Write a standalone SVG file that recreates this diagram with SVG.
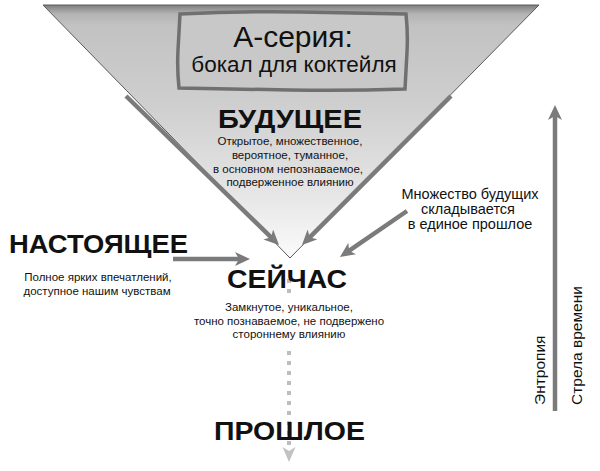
<svg xmlns="http://www.w3.org/2000/svg" width="600" height="471" viewBox="0 0 600 471">
<defs>
<linearGradient id="glass" gradientUnits="userSpaceOnUse" x1="0" y1="5" x2="0" y2="258">
<stop offset="0" stop-color="#7e7e7e"/>
<stop offset="0.035" stop-color="#b4b4b4"/>
<stop offset="0.08" stop-color="#c2c2c2"/>
<stop offset="0.4" stop-color="#cfcfcf"/>
<stop offset="0.75" stop-color="#e6e6e6"/>
<stop offset="1" stop-color="#fbfbfb"/>
</linearGradient>
<marker id="ah" markerUnits="userSpaceOnUse" markerWidth="16" markerHeight="14" viewBox="0 0 16 14" refX="9" refY="7" orient="auto">
<path d="M0,0 L15,7 L0,14 L4,7 Z" fill="#7b7b7b"/>
</marker>
</defs>
<style>
text{font-family:"Liberation Sans",Arial,sans-serif;fill:#111}
.big{font-weight:bold;font-size:26px}
.sm{font-size:11.5px;text-anchor:middle}
.md{font-size:14.5px;text-anchor:middle}
.arr{stroke:#7b7b7b;stroke-width:4.5;fill:none;marker-end:url(#ah)}
</style>
<g id="glass-shape">
<path d="M43,5 L539,5 L290,258 Z" fill="url(#glass)" stroke="#5a5a5a" stroke-width="1"/>
</g>
<g id="title-box">
<path d="M180,14 Q240,11 300,12 T406,14 Q408,33 407,52 T405,89 Q348,91 290,90 T179,88 Q177,69 178,50 T180,14 Z" fill="#c8c8c8" stroke="#707070" stroke-width="3.5"/>
<text x="293" y="47" font-size="30" text-anchor="middle">А-серия:</text>
<text x="294" y="72" font-size="22.5" text-anchor="middle">бокал для коктейля</text>
</g>
<g id="future">
<text class="big" x="218" y="128" textLength="144" lengthAdjust="spacingAndGlyphs">БУДУЩЕЕ</text>
<text class="sm" x="290" y="145" font-size="11">Открытое, множественное,</text>
<text class="sm" x="290" y="159">вероятное, туманное,</text>
<text class="sm" x="288" y="173">в основном непознаваемое,</text>
<text class="sm" x="290" y="186">подверженное влиянию</text>
</g>
<g id="connectors">
<line class="arr" x1="126" y1="96" x2="274.7" y2="240.8"/>
<line class="arr" x1="451" y1="96" x2="306.2" y2="240.8"/>
<line class="arr" x1="173" y1="259" x2="244" y2="259"/>
<line class="arr" x1="407" y1="211" x2="344.9" y2="253.6"/>
<line class="arr" x1="555" y1="411" x2="555" y2="111"/>
<line x1="289" y1="279" x2="289" y2="294" stroke="#bdbdbd" stroke-width="4" stroke-dasharray="4 6"/>
<line x1="289" y1="351" x2="289" y2="446" stroke="#bdbdbd" stroke-width="4" stroke-dasharray="4 6"/>
<path d="M282.5,447 L289,451 L295.5,447 L289,462 Z" fill="#c2c2c2"/>
</g>
<g id="present">
<text class="big" x="9" y="253" font-size="25" textLength="179" lengthAdjust="spacingAndGlyphs">НАСТОЯЩЕЕ</text>
<text class="sm" x="98" y="281">Полное ярких впечатлений,</text>
<text class="sm" x="97" y="295">доступное нашим чувствам</text>
</g>
<g id="now">
<text class="big" x="227" y="288" font-size="24" textLength="120" lengthAdjust="spacingAndGlyphs">СЕЙЧАС</text>
<text class="sm" x="289" y="311">Замкнутое, уникальное,</text>
<text class="sm" x="289" y="325">точно познаваемое, не подвержено</text>
<text class="sm" x="289" y="338">стороннему влиянию</text>
</g>
<g id="past">
<text class="big" x="214" y="440" textLength="151" lengthAdjust="spacingAndGlyphs">ПРОШЛОЕ</text>
</g>
<g id="note">
<text class="md" x="470" y="199">Множество будущих</text>
<text class="md" x="468" y="214">складывается</text>
<text class="md" x="470" y="229">в единое прошлое</text>
</g>
<g id="time-axis">
<text font-size="15.5" transform="translate(545,405) rotate(-90)">Энтропия</text>
<text font-size="15.5" transform="translate(582,405) rotate(-90)">Стрела времени</text>
</g>
</svg>
